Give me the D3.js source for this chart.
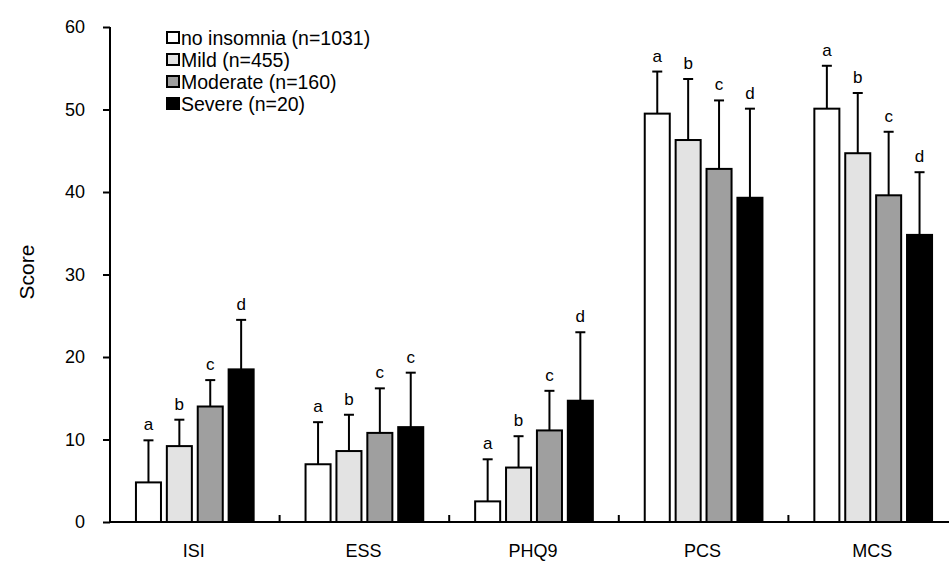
<!DOCTYPE html>
<html>
<head>
<meta charset="utf-8">
<script src="https://cdn.jsdelivr.net/npm/d3@7"></script>
<style>
  body { margin: 0; background: #fff; }
  svg { font-family: "Liberation Sans", Arial, sans-serif; }
</style>
</head>
<body>
<svg></svg>
<script>
var categories = ["ISI", "ESS", "PHQ9", "PCS", "MCS"];
var groups = ["no insomnia (n=1031)", "Mild (n=455)", "Moderate (n=160)", "Severe (n=20)"];
var fills = ["#ffffff", "#e3e3e3", "#9f9f9f", "#000000"];

// mean per group, one array per insomnia level (ISI, ESS, PHQ9, PCS, MCS)
var noInsomnia = [4.8, 7.0, 2.5, 49.5, 50.1];
var mild       = [9.2, 8.6, 6.6, 46.3, 44.7];
var moderate   = [14.0, 10.8, 11.1, 42.8, 39.6];
var severe     = [18.5, 11.5, 14.7, 39.3, 34.8];

// top of error bar (mean + SD)
var noInsomniaErr = [9.9, 12.1, 7.6, 54.6, 55.3];
var mildErr       = [12.4, 13.0, 10.4, 53.7, 52.0];
var moderateErr   = [17.2, 16.2, 15.9, 51.1, 47.3];
var severeErr     = [24.5, 18.1, 23.0, 50.1, 42.4];

// significance letters
var noInsomniaSig = ["a", "a", "a", "a", "a"];
var mildSig       = ["b", "b", "b", "b", "b"];
var moderateSig   = ["c", "c", "c", "c", "c"];
var severeSig     = ["d", "c", "d", "d", "d"];

var yTicks = [0, 10, 20, 30, 40, 50, 60];

var means = [noInsomnia, mild, moderate, severe];
var errs = [noInsomniaErr, mildErr, moderateErr, severeErr];
var sigs = [noInsomniaSig, mildSig, moderateSig, severeSig];

var width = 949, height = 561;
var svg = d3.select("svg").attr("width", width).attr("height", height);

var x0 = d3.scaleBand().domain(categories).range([110, 958]);
var x1 = d3.scaleBand().domain(d3.range(groups.length))
    .range([0, x0.bandwidth()]).paddingInner(0.19).paddingOuter(0.84);
var y = d3.scaleLinear().domain([0, 60]).range([522, 27]);

var rows = [];
categories.forEach(function (c, i) {
    groups.forEach(function (g, j) {
        rows.push({cat: c, g: j, v: means[j][i], e: errs[j][i], s: sigs[j][i]});
    });
});

// error bars behind bars
var eb = svg.append("g").attr("class", "errors")
    .selectAll("g").data(rows).enter().append("g")
    .attr("transform", function (d) {
        return "translate(" + (x0(d.cat) + x1(d.g) + x1.bandwidth() / 2) + ",0)";
    });
eb.append("line")
    .attr("y1", function (d) { return y(d.v); })
    .attr("y2", function (d) { return y(d.e); })
    .attr("stroke", "#000").attr("stroke-width", 2);
eb.append("line")
    .attr("x1", -5).attr("x2", 5)
    .attr("y1", function (d) { return y(d.e); })
    .attr("y2", function (d) { return y(d.e); })
    .attr("stroke", "#000").attr("stroke-width", 2);

svg.append("g").attr("class", "bars")
    .selectAll("rect").data(rows).enter().append("rect")
    .attr("x", function (d) { return x0(d.cat) + x1(d.g); })
    .attr("y", function (d) { return y(d.v); })
    .attr("width", x1.bandwidth())
    .attr("height", function (d) { return y(0) - y(d.v); })
    .attr("fill", function (d) { return fills[d.g]; })
    .attr("stroke", "#000").attr("stroke-width", 2);

svg.append("g").attr("class", "sig")
    .selectAll("text").data(rows).enter().append("text")
    .attr("x", function (d) { return x0(d.cat) + x1(d.g) + x1.bandwidth() / 2; })
    .attr("y", function (d) { return y(d.e) - 10; })
    .attr("text-anchor", "middle")
    .attr("font-size", 17)
    .text(function (d) { return d.s; });

// y axis
var yAxis = svg.append("g")
    .attr("transform", "translate(110,0)")
    .call(d3.axisLeft(y).tickValues(yTicks).tickSize(7).tickPadding(18));
yAxis.select(".domain").attr("stroke-width", 2).attr("d", "M0," + y(60) + "V" + y(0));
yAxis.selectAll(".tick line").attr("stroke-width", 2);
yAxis.selectAll("text").attr("font-size", 18).attr("font-family", "Liberation Sans, Arial, sans-serif");

// x axis with separators between categories
svg.append("line")
    .attr("x1", 109).attr("x2", width)
    .attr("y1", y(0)).attr("y2", y(0))
    .attr("stroke", "#000").attr("stroke-width", 2);
svg.append("g").selectAll("line").data(categories.slice(1)).enter().append("line")
    .attr("x1", function (d) { return x0(d); })
    .attr("x2", function (d) { return x0(d); })
    .attr("y1", y(0)).attr("y2", y(0) - 7)
    .attr("stroke", "#000").attr("stroke-width", 2);
svg.append("g").selectAll("text").data(categories).enter().append("text")
    .attr("x", function (d) { return x0(d) + x0.bandwidth() / 2 - 1; })
    .attr("y", 557)
    .attr("text-anchor", "middle")
    .attr("font-size", 18)
    .text(function (d) { return d; });

svg.append("text")
    .attr("transform", "translate(34,272) rotate(-90)")
    .attr("text-anchor", "middle")
    .attr("font-size", 21)
    .text("Score");

// legend
var leg = svg.append("g").attr("transform", "translate(167,30)")
    .selectAll("g").data(groups).enter().append("g")
    .attr("transform", function (d, i) { return "translate(0," + i * 22 + ")"; });
leg.append("rect")
    .attr("x", 0).attr("y", 2).attr("width", 12).attr("height", 11)
    .attr("fill", function (d, i) { return fills[i]; })
    .attr("stroke", "#000").attr("stroke-width", 2);
leg.append("text")
    .attr("x", 14).attr("y", 15)
    .attr("font-size", 19.5)
    .text(function (d) { return d; });
</script>
</body>
</html>
